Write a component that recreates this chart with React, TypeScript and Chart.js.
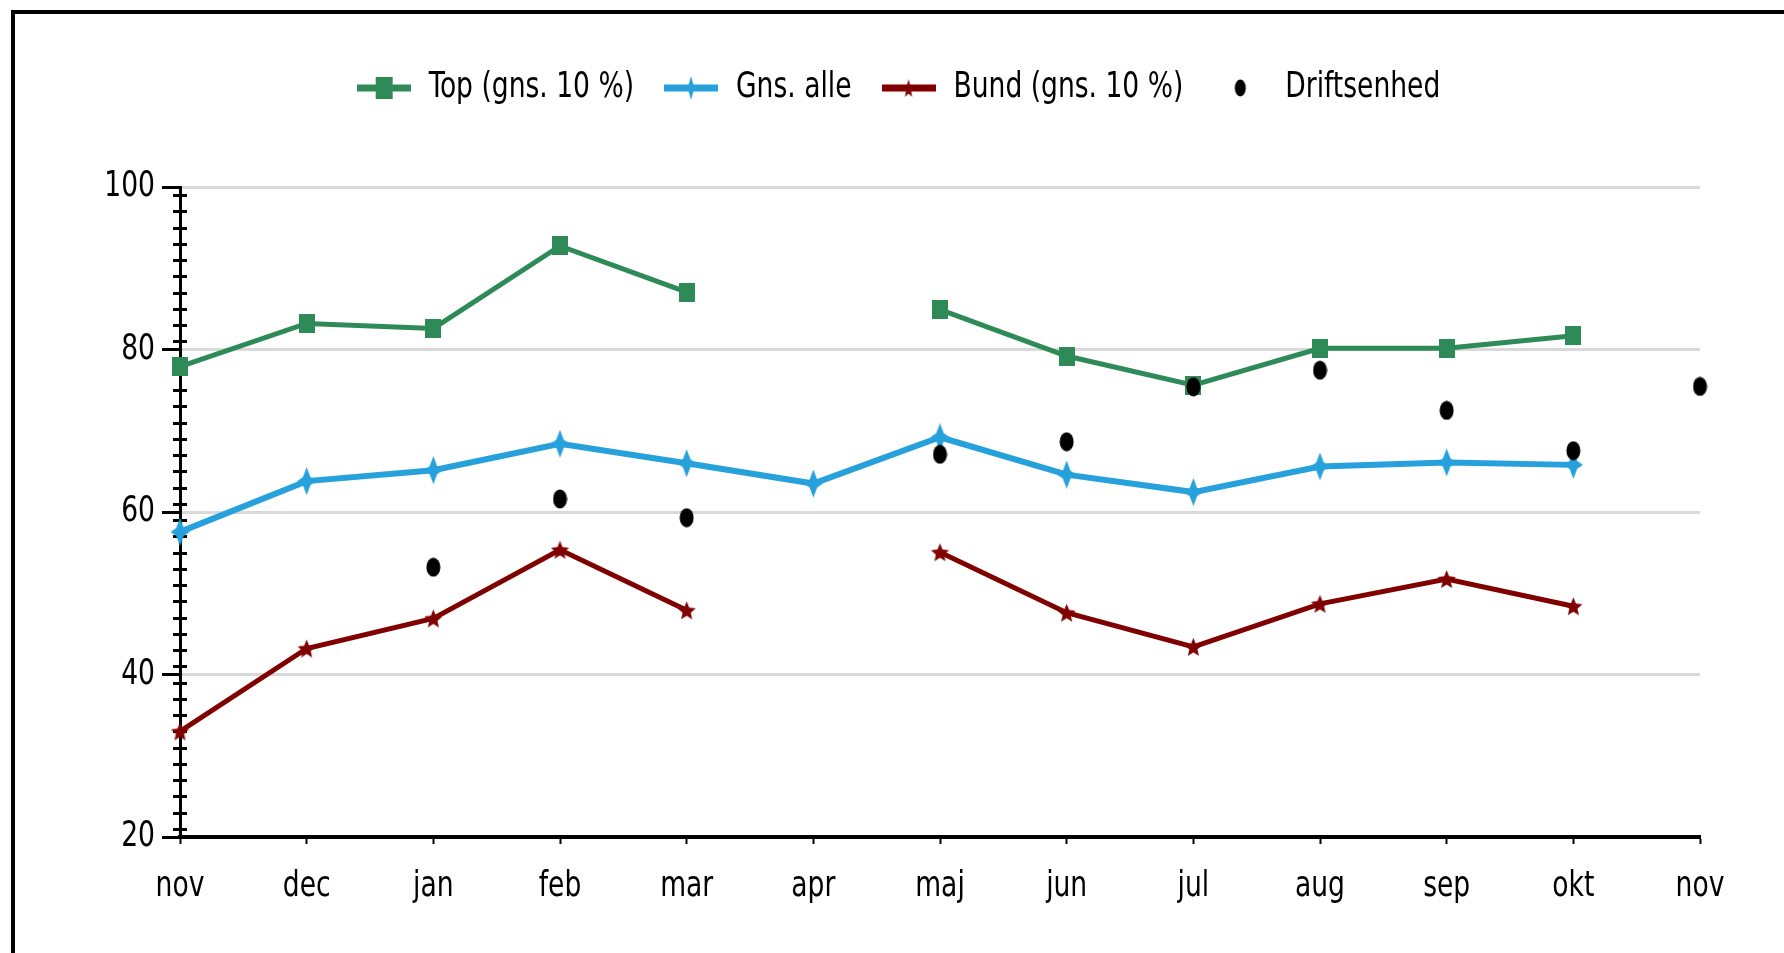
import React, { useEffect, useRef } from 'react';
import { Chart, registerables } from 'chart.js';

Chart.register(...registerables);

// ---- data ----
const monthLabels = ['nov', 'dec', 'jan', 'feb', 'mar', 'apr', 'maj', 'jun', 'jul', 'aug', 'sep', 'okt', 'nov'];
const topValues = [77.9, 83.2, 82.6, 92.75, 87.05, null, 84.9, 79.2, 75.6, 80.15, 80.15, 81.7, null];
const avgValues = [57.55, 63.8, 65.15, 68.4, 66.0, 63.5, 69.2, 64.6, 62.45, 65.6, 66.1, 65.8, null];
const bottomValues = [33.0, 43.2, 46.9, 55.35, 47.9, null, 55.05, 47.6, 43.4, 48.7, 51.75, 48.4, null];
const unitValues = [null, null, 53.2, 61.6, 59.3, null, 67.1, 68.65, 75.4, 77.45, 72.5, 67.55, 75.45];
const seriesNames = ['Top (gns. 10 %)', 'Gns. alle', 'Bund (gns. 10 %)', 'Driftsenhed'];
const seriesColors = ['#2e8b57', '#27a1db', '#800000', '#000000'];
const yMin = 20;
const yMax = 100;
const yStep = 20;
const minorTickStart = 21;
const minorTickStep = 2;

const FONT_FAMILY = "'Liberation Sans Narrow', 'DejaVu Sans Condensed', 'Liberation Sans', sans-serif";
const TEXT_SCALE_X = 0.82;

function makeCanvas(w: number, h: number, draw: (ctx: CanvasRenderingContext2D) => void): HTMLCanvasElement {
  const c = document.createElement('canvas');
  c.width = w;
  c.height = h;
  const ctx = c.getContext('2d') as CanvasRenderingContext2D;
  draw(ctx);
  return c;
}

function squareMarker(color: string, w: number, h: number) {
  return makeCanvas(w, h, (ctx) => {
    ctx.fillStyle = color;
    ctx.fillRect(0, 0, w, h);
  });
}

function star4Marker(color: string, w: number, h: number) {
  return makeCanvas(w, h, (ctx) => {
    const cx = w / 2;
    const cy = h / 2;
    const ix = w * 0.2;
    const iy = h * 0.14;
    ctx.fillStyle = color;
    ctx.beginPath();
    ctx.moveTo(cx, 0);
    ctx.lineTo(cx + ix, cy - iy);
    ctx.lineTo(w, cy);
    ctx.lineTo(cx + ix, cy + iy);
    ctx.lineTo(cx, h);
    ctx.lineTo(cx - ix, cy + iy);
    ctx.lineTo(0, cy);
    ctx.lineTo(cx - ix, cy - iy);
    ctx.closePath();
    ctx.fill();
  });
}

function star5Marker(color: string, w: number, h: number) {
  return makeCanvas(w, h, (ctx) => {
    const cx = w / 2;
    const cy = h / 2 + 1;
    const rx = w / 2;
    const ry = h / 2;
    ctx.fillStyle = color;
    ctx.beginPath();
    for (let i = 0; i < 10; i++) {
      const a = -Math.PI / 2 + (i * Math.PI) / 5;
      const f = i % 2 === 0 ? 1 : 0.45;
      const px = cx + Math.cos(a) * rx * f;
      const py = cy + Math.sin(a) * ry * f;
      if (i === 0) ctx.moveTo(px, py);
      else ctx.lineTo(px, py);
    }
    ctx.closePath();
    ctx.fill();
  });
}

function ellipseMarker(color: string, w: number, h: number) {
  return makeCanvas(w, h, (ctx) => {
    ctx.fillStyle = color;
    ctx.beginPath();
    ctx.ellipse(w / 2, h / 2, w / 2 - 0.5, h / 2 - 0.5, 0, 0, Math.PI * 2);
    ctx.fill();
  });
}

function legendImage(color: string, marker: HTMLCanvasElement, withLine: boolean) {
  const w = 54;
  const h = 26;
  return makeCanvas(w, h, (ctx) => {
    if (withLine) {
      ctx.fillStyle = color;
      ctx.fillRect(0, h / 2 - 3.5, w, 7);
    }
    ctx.drawImage(marker, Math.round((w - marker.width) / 2), Math.round((h - marker.height) / 2));
  });
}

// Draw text horizontally condensed (the original uses a narrow face)
function condenseText(ctx: CanvasRenderingContext2D, sx: number) {
  const origFill = ctx.fillText.bind(ctx);
  const origMeasure = ctx.measureText.bind(ctx);
  (ctx as any).fillText = (text: string, x: number, y: number, maxWidth?: number) => {
    ctx.save();
    ctx.translate(x, y);
    ctx.scale(sx, 1);
    if (maxWidth !== undefined) origFill(text, 0, 0, maxWidth / sx);
    else origFill(text, 0, 0);
    ctx.restore();
  };
  (ctx as any).measureText = (text: string) => {
    const m = origMeasure(text);
    return {
      width: m.width * sx,
      actualBoundingBoxAscent: m.actualBoundingBoxAscent,
      actualBoundingBoxDescent: m.actualBoundingBoxDescent,
      actualBoundingBoxLeft: m.actualBoundingBoxLeft * sx,
      actualBoundingBoxRight: m.actualBoundingBoxRight * sx,
      fontBoundingBoxAscent: m.fontBoundingBoxAscent,
      fontBoundingBoxDescent: m.fontBoundingBoxDescent,
    };
  };
}

const minorTicksPlugin = {
  id: 'minorTicks',
  beforeDatasetsDraw(chart: any) {
    const ys = chart.scales.y;
    const ctx = chart.ctx as CanvasRenderingContext2D;
    const x0 = ys.right;
    ctx.save();
    ctx.fillStyle = '#000';
    for (let v = minorTickStart; v < yMax; v += minorTickStep) {
      const py = Math.round(ys.getPixelForValue(v));
      ctx.fillRect(x0 - 7, py - 1, 14, 3);
    }
    ctx.restore();
  },
};

export default function App() {
  const ref = useRef<HTMLCanvasElement>(null);

  useEffect(() => {
    const canvas = ref.current as HTMLCanvasElement;
    const ctx2d = canvas.getContext('2d') as CanvasRenderingContext2D;
    condenseText(ctx2d, TEXT_SCALE_X);

    const markers = [
      squareMarker(seriesColors[0], 16, 19),
      star4Marker(seriesColors[1], 19, 28),
      star5Marker(seriesColors[2], 19, 20),
      ellipseMarker(seriesColors[3], 15, 20),
    ];
    const legendMarkers = [
      squareMarker(seriesColors[0], 17, 22),
      star4Marker(seriesColors[1], 12, 24),
      star5Marker(seriesColors[2], 12, 20),
      ellipseMarker(seriesColors[3], 12, 18),
    ];
    const legendImages = [
      legendImage(seriesColors[0], legendMarkers[0], true),
      legendImage(seriesColors[1], legendMarkers[1], true),
      legendImage(seriesColors[2], legendMarkers[2], true),
      legendImage(seriesColors[3], legendMarkers[3], false),
    ];

    const font = { family: FONT_FAMILY, size: 36 };

    const chart = new Chart(canvas, {
      type: 'line',
      data: {
        labels: monthLabels,
        datasets: [
          {
            label: seriesNames[0],
            data: topValues,
            borderColor: seriesColors[0],
            backgroundColor: seriesColors[0],
            borderWidth: 5,
            pointStyle: markers[0],
            pointRadius: 10,
            spanGaps: false,
            clip: false,
            order: 1,
          },
          {
            label: seriesNames[1],
            data: avgValues,
            borderColor: seriesColors[1],
            backgroundColor: seriesColors[1],
            borderWidth: 6,
            pointStyle: markers[1],
            pointRadius: 10,
            spanGaps: false,
            clip: false,
            order: 2,
          },
          {
            label: seriesNames[2],
            data: bottomValues,
            borderColor: seriesColors[2],
            backgroundColor: seriesColors[2],
            borderWidth: 5,
            pointStyle: markers[2],
            pointRadius: 10,
            spanGaps: false,
            clip: false,
            order: 3,
          },
          {
            label: seriesNames[3],
            data: unitValues,
            borderColor: seriesColors[3],
            backgroundColor: seriesColors[3],
            showLine: false,
            pointStyle: markers[3],
            pointRadius: 10,
            clip: false,
            order: 0,
          },
        ] as any,
      },
      options: {
        animation: false,
        responsive: false,
        devicePixelRatio: 1,
        events: [],
        color: '#000',
        layout: { padding: { top: 26, left: 82, right: 84, bottom: 0 } },
        plugins: {
          tooltip: { enabled: false },
          legend: {
            display: true,
            position: 'top',
            labels: {
              usePointStyle: true,
              pointStyleWidth: 54,
              padding: 30,
              color: '#000',
              font,
              generateLabels: (ch: any) =>
                ch.data.datasets.map((ds: any, i: number) => ({
                  text: ds.label,
                  pointStyle: legendImages[i],
                  fillStyle: 'transparent',
                  strokeStyle: 'transparent',
                  lineWidth: 0,
                  hidden: false,
                  datasetIndex: i,
                  fontColor: '#000',
                })),
            },
          },
          title: {
            display: true,
            text: ' ',
            weight: 500,
            font: { size: 10, lineHeight: 1 },
            padding: { top: 61, bottom: 0 },
          } as any,
        },
        scales: {
          x: {
            type: 'category',
            afterFit: (s: any) => {
              s.height = 116;
            },
            grid: {
              drawOnChartArea: false,
              drawTicks: true,
              tickLength: 7,
              tickWidth: 2,
              tickColor: '#000',
            },
            border: { display: true, color: '#000', width: 4 },
            ticks: {
              color: '#000',
              font,
              padding: 21,
              maxRotation: 0,
              autoSkip: false,
            },
          },
          y: {
            min: yMin,
            max: yMax,
            afterFit: (s: any) => {
              s.width = 83;
            },
            grid: {
              color: '#d9d9d9',
              lineWidth: 3,
              drawTicks: true,
              tickLength: 18,
              tickWidth: 3,
              tickColor: '#000',
            },
            border: { display: true, color: '#000', width: 3 },
            ticks: {
              stepSize: yStep,
              color: '#000',
              font,
              padding: 7,
            },
          },
        },
      } as any,
      plugins: [minorTicksPlugin],
    });

    return () => chart.destroy();
  }, []);

  return (
    <div
      style={{
        position: 'absolute',
        left: 11,
        top: 10,
        width: 1773,
        height: 943,
        borderTop: '4px solid #000',
        borderLeft: '4px solid #000',
        boxSizing: 'border-box',
        background: '#fff',
        overflow: 'hidden',
      }}
    >
      <canvas ref={ref} width={1769} height={939} style={{ display: 'block', width: 1769, height: 939 }} />
    </div>
  );
}
